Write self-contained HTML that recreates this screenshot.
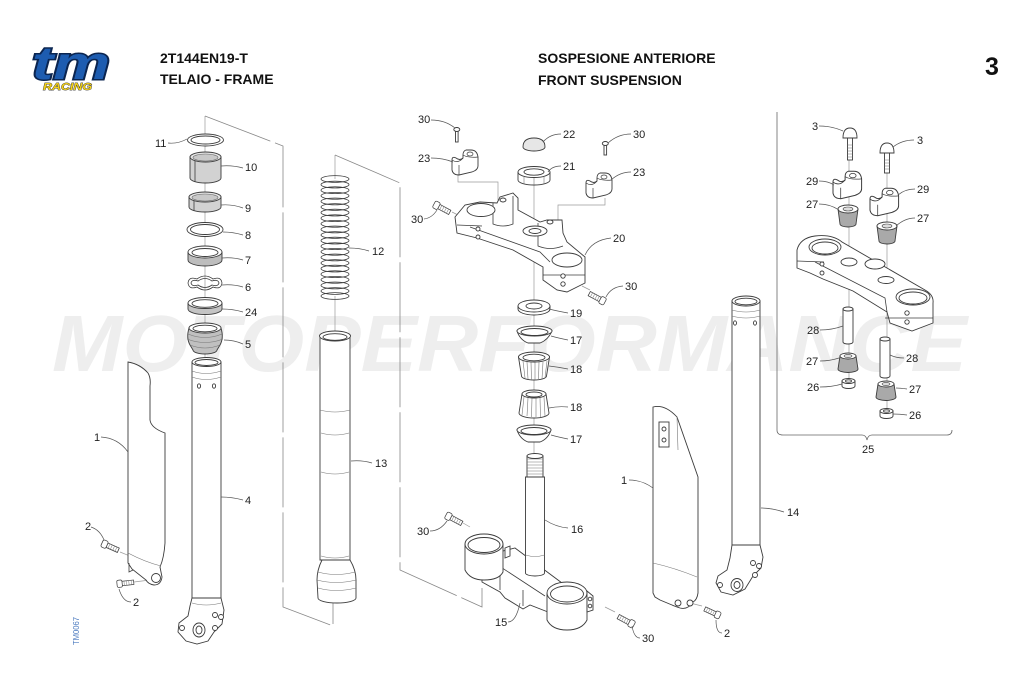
<!DOCTYPE html>
<html><head><meta charset="utf-8"><style>
html,body{margin:0;padding:0;background:#fff;}
svg{display:block;}
text{font-family:"Liberation Sans",sans-serif;}
.l{font-size:11px;fill:#222;}
.p{fill:#fff;stroke:#3c3c3c;stroke-width:0.9;}
.g{fill:#d2d2d2;stroke:#3c3c3c;stroke-width:0.9;}
.d{fill:#a9a9a9;stroke:#3c3c3c;stroke-width:0.9;}
.n{fill:none;stroke:#3c3c3c;stroke-width:0.8;}
.t{fill:none;stroke:#777;stroke-width:0.6;}
.ld{fill:none;stroke:#555;stroke-width:0.7;}
.ax{fill:none;stroke:#9a9a9a;stroke-width:0.7;}
.dl{fill:none;stroke:#888;stroke-width:0.8;stroke-dasharray:70 5;}
</style></head><body>
<svg width="1022" height="686" viewBox="0 0 1022 686" xmlns="http://www.w3.org/2000/svg">
<defs>
 <g id="bolt">
  <rect x="6" y="-2.8" width="15" height="5.6" fill="#fff" stroke="#3c3c3c" stroke-width="0.9"/>
  <path d="M9,-2.8v5.6M12,-2.8v5.6M15,-2.8v5.6M18,-2.8v5.6" stroke="#777" stroke-width="0.6"/>
  <rect x="0" y="-4.5" width="6.5" height="9" rx="2" fill="#fff" stroke="#3c3c3c" stroke-width="0.9"/>
 </g>
 <g id="clampcap">
  <path d="M0,12 L0,22 Q1,27 7,27 L20,24 Q26,22 26,18 L26,9 Q25,2 19,2 L14,2 Q11,3 11,7 L11,10 Q8,13 4,10 Q0,8 0,12 Z" fill="#fff" stroke="#3c3c3c" stroke-width="0.9"/>
  <path d="M0,12 Q6,16 11,10 M11,7 Q16,10 26,9 M7,27 L7,17" fill="none" stroke="#3c3c3c" stroke-width="0.7"/>
  <ellipse cx="18" cy="6" rx="3" ry="2" fill="#fff" stroke="#3c3c3c" stroke-width="0.7"/>
 </g>
 <g id="rub">
  <path d="M0,4 L2,19 A8,3 0 0 0 18,19 L20,4 Z" fill="#a9a9a9" stroke="#3c3c3c" stroke-width="0.9"/>
  <ellipse cx="10" cy="4" rx="10" ry="4" fill="#fff" stroke="#3c3c3c" stroke-width="0.9"/>
  <ellipse cx="10" cy="4" rx="5" ry="2" fill="#ddd" stroke="#3c3c3c" stroke-width="0.6"/>
 </g>
 <g id="rubup">
  <path d="M2,4 L0,17 A10,3.5 0 0 0 20,17 L18,4 Z" fill="#a9a9a9" stroke="#3c3c3c" stroke-width="0.9"/>
  <ellipse cx="10" cy="4" rx="8" ry="3" fill="#fff" stroke="#3c3c3c" stroke-width="0.9"/>
  <ellipse cx="10" cy="4" rx="4" ry="1.6" fill="#ddd" stroke="#3c3c3c" stroke-width="0.6"/>
 </g>
</defs>

<text x="52" y="371" font-size="80" font-weight="bold" font-style="italic" fill="#eeeeee" textLength="915" lengthAdjust="spacingAndGlyphs">MOTOPERFORMANCE</text>

<text x="32" y="79" font-size="46" font-weight="bold" font-style="italic" fill="#1d5cb0" stroke="#0b2550" stroke-width="3" paint-order="stroke" textLength="78" lengthAdjust="spacingAndGlyphs">tm</text>
<text x="43" y="90" font-size="10.5" font-weight="bold" font-style="italic" fill="#f2d01a" stroke="#222" stroke-width="0.7" paint-order="stroke" textLength="49" lengthAdjust="spacingAndGlyphs">RACING</text>
<text x="160" y="63" font-size="14" font-weight="bold" fill="#111">2T144EN19-T</text>
<text x="160" y="84" font-size="14" font-weight="bold" fill="#111">TELAIO - FRAME</text>
<text x="538" y="63" font-size="14" font-weight="bold" fill="#111">SOSPESIONE ANTERIORE</text>
<text x="538" y="85" font-size="14" font-weight="bold" fill="#111">FRONT SUSPENSION</text>
<text x="985" y="75" font-size="25" font-weight="bold" fill="#111">3</text>
<text transform="translate(79,645) rotate(-90)" font-size="8.5" fill="#4d7cc0" textLength="28" lengthAdjust="spacingAndGlyphs">TM0067</text>

<path class="ax" d="M205,116 V362 M335,155 V336 M534,185 V455 M849,138 V385 M887,153 V410 M458,175 V182 H498 V200 M605,198 V205 H558 V220 M452,212 L460,216 M590,290 L582,286 M463,523 L470,527 M615,612 L605,607 M120,552 L130,556 M134,582 L150,580 M702,606 L690,603"/>
<path class="dl" d="M205,116 L283,146 L283,607 L333,626 L333,603"/>
<path class="dl" d="M335,155 L400,183 L400,570 L482,607 L482,588"/>
<path class="n" style="stroke:#666" d="M777,112 L777,430 Q777,435 783,435 L862,435 Q866,435 867,440 Q868,435 872,435 L947,435 Q952,435 952,430"/>

<ellipse class="p" cx="205.5" cy="140" rx="18" ry="6"/>
<ellipse class="p" cx="205.5" cy="140" rx="14.5" ry="4"/>
<path class="g" d="M190,157 L190,178 A15.5,5 0 0 0 221,178 L221,157 Z"/>
<ellipse cx="205.5" cy="157" rx="15.5" ry="5" fill="#e4e4e4" stroke="#3c3c3c" stroke-width="0.9"/>
<ellipse cx="205.5" cy="157.5" rx="12.5" ry="3.5" fill="#c9c9c9" stroke="#666" stroke-width="0.6"/>
<path class="n" d="M195,161 V182"/>
<path class="g" d="M189,197 L189,207 A16,5 0 0 0 221,207 L221,197 Z"/>
<ellipse cx="205" cy="197" rx="16" ry="5" fill="#e4e4e4" stroke="#3c3c3c" stroke-width="0.9"/>
<ellipse cx="205" cy="197.5" rx="13" ry="3.5" fill="#c9c9c9" stroke="#666" stroke-width="0.6"/>
<path class="n" d="M194,201 V211"/>
<ellipse class="p" cx="205" cy="229.5" rx="18" ry="7"/>
<ellipse class="p" cx="205" cy="229.5" rx="14.5" ry="5"/>
<path d="M188,252 L188,260 A17,6 0 0 0 222,260 L222,252 Z" fill="#bdbdbd" stroke="#3c3c3c" stroke-width="0.9"/>
<ellipse class="p" cx="205" cy="252" rx="17" ry="6"/>
<ellipse class="p" cx="205" cy="252.5" rx="13" ry="4"/>
<path class="n" d="M188,283 Q189,276 197,279 Q205,273 213,279 Q221,276 222,283 Q221,290 213,287 Q205,293 197,287 Q189,290 188,283 Z"/>
<path class="n" d="M191,283 Q192,279 198,281 Q205,276 212,281 Q218,279 219,283 Q218,287 212,285 Q205,290 198,285 Q192,287 191,283 Z"/>
<path d="M188,303 L188,309 A17,5.5 0 0 0 222,309 L222,303 Z" fill="#c4c4c4" stroke="#3c3c3c" stroke-width="0.9"/>
<ellipse class="p" cx="205" cy="303" rx="17" ry="5.5"/>
<ellipse class="p" cx="205" cy="303.5" rx="13" ry="3.8"/>
<path d="M189,328 Q186,338 190,345 L193,350 A12,4 0 0 0 217,350 L220,345 Q224,338 221,328 Z" fill="#c0c0c0" stroke="#3c3c3c" stroke-width="0.9"/>
<path class="t" d="M188,334 Q205,341 222,334 M187,339 Q205,346 223,339 M190,345 Q205,351 220,345"/>
<ellipse class="p" cx="205" cy="328" rx="16" ry="5"/>
<ellipse class="p" cx="205" cy="328.5" rx="12" ry="3.3"/>
<path class="p" d="M192,362 L192,598 L221,598 L221,362 Z"/>
<path class="t" d="M192,371 Q206,376 221,371 M192,377 Q206,382 221,377"/>
<ellipse class="p" cx="206.5" cy="362" rx="14.5" ry="4.5"/>
<ellipse class="p" cx="206.5" cy="362.5" rx="11.5" ry="3"/>
<ellipse class="p" cx="199" cy="386" rx="1.6" ry="2.2"/>
<ellipse class="p" cx="214" cy="386" rx="1.6" ry="2.2"/>
<path class="p" d="M192,598 L221,598 L224,610 L222,624 L214,632 L208,641 L197,644 L186,641 L178,632 L179,623 L188,616 L190,606 Z"/>
<ellipse class="p" cx="199" cy="630" rx="6" ry="7"/>
<ellipse class="p" cx="199" cy="630" rx="3" ry="4"/>
<circle class="p" cx="215" cy="615" r="2.5"/><circle class="p" cx="221" cy="617" r="2.5"/>
<circle class="p" cx="182" cy="628" r="2.5"/><circle class="p" cx="215" cy="628" r="2.5"/>
<path class="t" d="M192,603 Q206,607 221,603"/>
<path class="p" d="M128,362 Q140,364 148,373 Q151,378 150,386 L150,420 Q151,428 165,433 L165,543 Q164,558 160,567 L162,577 Q161,585 154,585 Q148,584 146,580 L132,569 L128,563 Z"/>
<path class="t" d="M128,553 Q145,562 161,566"/>
<circle class="p" cx="156" cy="578" r="4.5"/>
<path class="n" d="M129,563 L129,572 L133,570"/>
<use href="#bolt" transform="translate(102,543) rotate(24) scale(0.85)"/>
<use href="#bolt" transform="translate(117,584) rotate(-6) scale(0.8)"/>

<path fill="#fff" d="M321,179 L321,296 L349,296 L349,179 Z"/>
<g class="n">
<ellipse cx="335" cy="179" rx="14" ry="3.4"/><ellipse cx="335" cy="184.6" rx="14" ry="3.4"/><ellipse cx="335" cy="190.2" rx="14" ry="3.4"/><ellipse cx="335" cy="195.8" rx="14" ry="3.4"/><ellipse cx="335" cy="201.4" rx="14" ry="3.4"/><ellipse cx="335" cy="207" rx="14" ry="3.4"/><ellipse cx="335" cy="212.6" rx="14" ry="3.4"/><ellipse cx="335" cy="218.2" rx="14" ry="3.4"/><ellipse cx="335" cy="223.8" rx="14" ry="3.4"/><ellipse cx="335" cy="229.4" rx="14" ry="3.4"/><ellipse cx="335" cy="235" rx="14" ry="3.4"/><ellipse cx="335" cy="240.6" rx="14" ry="3.4"/><ellipse cx="335" cy="246.2" rx="14" ry="3.4"/><ellipse cx="335" cy="251.8" rx="14" ry="3.4"/><ellipse cx="335" cy="257.4" rx="14" ry="3.4"/><ellipse cx="335" cy="263" rx="14" ry="3.4"/><ellipse cx="335" cy="268.6" rx="14" ry="3.4"/><ellipse cx="335" cy="274.2" rx="14" ry="3.4"/><ellipse cx="335" cy="279.8" rx="14" ry="3.4"/><ellipse cx="335" cy="285.4" rx="14" ry="3.4"/><ellipse cx="335" cy="291" rx="14" ry="3.4"/><ellipse cx="335" cy="296" rx="14" ry="3.4"/>
</g>
<path class="p" d="M320,336 L320,560 L350,560 L350,336 Z"/>
<path class="t" d="M320,410 Q335,414 350,410 M321,433 Q335,437 349,433 M321,472 Q335,476 349,472 M321,556 Q335,560 349,556"/>
<ellipse class="p" cx="335" cy="336" rx="15.5" ry="5"/>
<ellipse class="p" cx="335" cy="337" rx="12" ry="3.3"/>
<path class="p" d="M322,560 Q317,570 317,580 L318,598 A19,5 0 0 0 356,598 L356,580 Q356,570 350,560 Z"/>
<path class="t" d="M318,572 Q336,577 355,572 M317,580 Q336,585 356,580 M318,588 Q336,593 356,588"/>

<use href="#bolt" transform="translate(434,204) rotate(28) scale(0.85)"/>
<path class="p" d="M455,217 L465,205 L480,202 L497,203 L500,197 L513,193 L518,198 L518,210 L540,222 L547,220 L562,220 L563,233 L567,242 L585,257 L585,283 L567,292 L557,290 L543,280 L543,267 L513,250 L477,238 L457,233 Z"/>
<path class="n" d="M457,225 L482,226 M470,227 L540,252 L550,262 M543,275 L585,275 M493,203 L493,224 Q503,228 513,224 L513,196 M538,223 L538,246 Q550,251 563,246"/>
<ellipse class="p" cx="481" cy="210" rx="14" ry="6.5"/>
<ellipse class="p" cx="567" cy="260" rx="15" ry="7"/>
<ellipse class="p" cx="535" cy="231" rx="12" ry="5"/>
<ellipse class="p" cx="535" cy="231" rx="6" ry="2.5"/>
<ellipse class="p" cx="503" cy="200" rx="3" ry="2"/>
<ellipse class="p" cx="550" cy="222" rx="3" ry="2"/>
<circle class="p" cx="478" cy="229" r="2"/><circle class="p" cx="478" cy="237" r="2"/>
<circle class="p" cx="563" cy="276" r="2.2"/><circle class="p" cx="563" cy="284" r="2.2"/>
<use href="#bolt" transform="translate(605,302) rotate(208) scale(0.85)"/>
<use href="#clampcap" transform="translate(452,148)"/>
<use href="#clampcap" transform="translate(586,171)"/>
<rect class="p" x="455.5" y="130" width="2.6" height="12"/>
<ellipse class="p" cx="456.8" cy="129.5" rx="3" ry="2"/>
<rect class="p" x="604" y="144" width="2.6" height="11"/>
<ellipse class="p" cx="605.3" cy="143.5" rx="3" ry="2"/>
<path d="M523,147 Q523,138 534,138 Q545,138 545,147 A11,4 0 0 1 523,147 Z" fill="#e6e6e6" stroke="#3c3c3c" stroke-width="0.9"/>
<path class="p" d="M518,172 L518,180 A16,5 0 0 0 550,180 L550,172 Z"/>
<ellipse class="p" cx="534" cy="172" rx="16" ry="5.5"/>
<ellipse class="p" cx="534" cy="172" rx="10" ry="3.2"/>
<path class="t" d="M524,177 V184 M534,178 V185 M544,177 V184"/>

<path class="p" d="M518,306 L518,309 A16,6 0 0 0 550,309 L550,306 Z"/>
<ellipse class="p" cx="534" cy="306" rx="16" ry="6"/>
<ellipse class="p" cx="534" cy="306" rx="8" ry="3"/>
<path class="p" d="M517,331 Q520,340 528,343 L540,343 Q548,340 552,331 Z"/>
<ellipse class="p" cx="534.5" cy="331" rx="17.5" ry="5"/>
<ellipse class="p" cx="534.5" cy="332" rx="13.5" ry="3.5"/>
<path class="p" d="M518.5,357 L521.5,376 A12.5,4 0 0 0 546.5,376 L549.5,357 Z"/>
<path class="t" d="M523,361 L525,378 M527,362 L528,379 M531,362 L531.5,380 M535,362 L535,380 M539,362 L538.5,380 M543,362 L542,379 M547,361 L545,378"/>
<ellipse class="p" cx="534" cy="357" rx="15.5" ry="5"/>
<ellipse class="p" cx="534" cy="357.5" rx="11" ry="3.3"/>
<path class="p" d="M522,394 L519,413 A15,5 0 0 0 549,413 L546,394 Z"/>
<path class="t" d="M524,397 L522,415 M528,398 L527,416 M532,398 L531.5,417 M536,398 L536,417 M540,398 L540.5,417 M544,397 L545,416"/>
<ellipse class="p" cx="534" cy="394" rx="12" ry="4"/>
<ellipse class="p" cx="534" cy="394.5" rx="8" ry="2.5"/>
<path class="p" d="M517,430 Q520,439 528,442 L540,442 Q548,439 551,430 Z"/>
<ellipse class="p" cx="534" cy="430" rx="17" ry="5"/>
<ellipse class="p" cx="534" cy="431" rx="13" ry="3.5"/>

<use href="#bolt" transform="translate(446,515) rotate(28) scale(0.85)"/>
<path class="p" d="M495,553 L515,548 L562,583 L548,592 L548,612 L530,605 L523,609 L505,598 L500,592 L482,582 L482,562 Z"/>
<path class="n" d="M490,560 L545,596 M500,575 L500,590 M523,590 L523,606"/>
<path class="p" d="M465,544 L465,570 Q470,580 484,580 Q499,580 503,572 L503,544 Z"/>
<ellipse class="p" cx="484" cy="544" rx="19" ry="10"/>
<ellipse class="p" cx="484" cy="545" rx="16" ry="7.5"/>
<path class="p" d="M505,548 L510,546 L510,556 L505,558 Z"/>
<path class="p" d="M525.5,477 L525.5,573 A9.5,3 0 0 0 544.5,573 L544.5,477 Z"/>
<path class="t" d="M525.5,555 Q535,558 544.5,555"/>
<path class="p" d="M527,456 L527,477 L543,477 L543,456 Z"/>
<path class="t" d="M527,459 H543 M527,462 H543 M527,465 H543 M527,468 H543 M527,471 H543 M527,474 H543"/>
<ellipse class="p" cx="535" cy="456" rx="8" ry="2.5"/>
<path class="p" d="M547,594 L547,620 Q552,630 567,630 Q582,630 587,620 L587,594 Z"/>
<ellipse class="p" cx="567" cy="593" rx="20" ry="11"/>
<ellipse class="p" cx="567" cy="594" rx="16.5" ry="8"/>
<path class="p" d="M587,591 L593,596 L593,610 L587,612 Z"/>
<circle class="p" cx="590" cy="599" r="1.8"/><circle class="p" cx="590" cy="606" r="1.8"/>
<use href="#bolt" transform="translate(634,625) rotate(208) scale(0.85)"/>

<path class="p" d="M653,407 Q665,404 677,417 L698,477 L698,593 Q697,600 693,602 Q688,610 680,608 Q674,606 672,605 L660,600 L655,597 L653,593 Z"/>
<path class="t" d="M653,563 Q675,568 697,577 M677,417 L678,450"/>
<rect class="p" x="659" y="422" width="10" height="25"/>
<circle class="p" cx="664" cy="429" r="2"/><circle class="p" cx="664" cy="440" r="2"/>
<circle class="p" cx="678" cy="603" r="3"/><circle class="p" cx="690" cy="603" r="3"/>
<path class="p" d="M732,301 L732,545 L760,545 L760,301 Z"/>
<path class="t" d="M732,310 Q746,314 760,310 M732,316 Q746,320 760,316 M732,549 Q746,553 760,549"/>
<ellipse class="p" cx="746" cy="301" rx="14" ry="5"/>
<ellipse class="p" cx="746" cy="301.5" rx="11" ry="3.3"/>
<ellipse class="p" cx="735" cy="323" rx="1.5" ry="2.2"/>
<ellipse class="p" cx="755" cy="323" rx="1.5" ry="2.2"/>
<path class="p" d="M732,545 L760,545 L763,557 L761,568 L753,576 L745,589 L733,595 L721,592 L716,583 L718,576 L727,570 L730,558 Z"/>
<ellipse class="p" cx="737" cy="585" rx="6" ry="6.5"/>
<ellipse class="p" cx="737" cy="585" rx="3" ry="3.5"/>
<circle class="p" cx="753" cy="563" r="2.5"/><circle class="p" cx="759" cy="566" r="2.5"/>
<circle class="p" cx="720" cy="585" r="2.5"/><circle class="p" cx="755" cy="575" r="2.5"/>
<use href="#bolt" transform="translate(720,616) rotate(205) scale(0.8)"/>

<rect class="p" x="847.5" y="137" width="5" height="23"/>
<path class="t" d="M847.5,145 H852.5 M847.5,148 H852.5 M847.5,151 H852.5 M847.5,154 H852.5 M847.5,157 H852.5"/>
<path class="p" d="M843,138 Q843,128 850,128 Q857,128 857,138 Z"/>
<rect class="p" x="884.5" y="152" width="5" height="21"/>
<path class="t" d="M884.5,160 H889.5 M884.5,163 H889.5 M884.5,166 H889.5 M884.5,169 H889.5"/>
<path class="p" d="M880,153 Q880,143 887,143 Q894,143 894,153 Z"/>
<use href="#clampcap" transform="translate(833,169) scale(1.1)"/>
<use href="#clampcap" transform="translate(870,186) scale(1.1)"/>
<use href="#rub" transform="translate(838,205)"/>
<use href="#rub" transform="translate(877,222)"/>
<path class="p" d="M797,250 Q800,238 815,236 Q832,234 842,242 L925,290 Q934,295 933,303 L933,323 L912,331 L890,323 L887,312 L853,291 L823,279 L810,273 L797,268 Z"/>
<path class="n" d="M797,261 L824,262 M815,262 L885,298 L887,312 M885,318 L933,318"/>
<ellipse class="p" cx="825" cy="247" rx="16" ry="8"/>
<ellipse class="p" cx="825" cy="248" rx="13" ry="6"/>
<ellipse class="p" cx="913" cy="297" rx="17" ry="8"/>
<ellipse class="p" cx="913" cy="298" rx="14" ry="6"/>
<ellipse class="p" cx="849" cy="262" rx="8" ry="4"/>
<ellipse class="p" cx="875" cy="264" rx="10" ry="5"/>
<ellipse class="p" cx="886" cy="280" rx="8" ry="3.5"/>
<circle class="p" cx="822" cy="264" r="2"/><circle class="p" cx="822" cy="273" r="2"/>
<circle class="p" cx="907" cy="313" r="2.2"/><circle class="p" cx="907" cy="322" r="2.2"/>
<path class="p" d="M843,309 L843,342 A5,2 0 0 0 853,342 L853,309 Z"/>
<ellipse class="p" cx="848" cy="309" rx="5" ry="2"/>
<path class="p" d="M880,339 L880,376 A5,2 0 0 0 890,376 L890,339 Z"/>
<ellipse class="p" cx="885" cy="339" rx="5" ry="2"/>
<use href="#rubup" transform="translate(838,352)"/>
<use href="#rubup" transform="translate(876,380)"/>
<path class="p" d="M842,381 L842,386 A6.5,2.5 0 0 0 855,386 L855,381 Z"/>
<ellipse class="p" cx="848.5" cy="381" rx="6.5" ry="2.5"/>
<ellipse class="p" cx="848.5" cy="381" rx="3" ry="1.2"/>
<path class="p" d="M880,411 L880,416 A6.5,2.5 0 0 0 893,416 L893,411 Z"/>
<ellipse class="p" cx="886.5" cy="411" rx="6.5" ry="2.5"/>
<ellipse class="p" cx="886.5" cy="411" rx="3" ry="1.2"/>

<path class="ld" d="M168,143 Q178,144 187,139 M221,166 Q232,165 243,168 M221,205 Q232,204 243,208 M223,232 Q233,232 243,235 M222,258 Q233,257 243,260 M222,285 Q233,284 243,287 M222,309 Q233,309 243,312 M224,340 Q234,340 243,344 M221,497 Q232,497 243,500 M101,437 Q118,438 128,452 M91,527 Q100,530 104,540 M131,602 Q123,602 119,589 M349,248 Q360,248 369,251 M351,461 Q362,460 372,463"/>
<path class="ld" d="M431,120 Q445,120 455,128 M431,158 Q443,158 453,162 M424,219 Q432,218 437,210 M561,134 Q550,134 543,142 M561,166 Q552,166 548,172 M631,134 Q618,134 608,143 M631,172 Q620,172 611,180 M611,238 Q592,240 585,255 M623,286 Q611,287 606,297 M568,313 Q557,311 549,309 M568,340 Q558,338 551,336 M568,369 Q558,367 549,366 M568,407 Q558,406 549,408 M568,439 Q558,437 551,435 M568,528 Q556,527 545,520 M430,531 Q440,531 447,521 M508,622 Q516,622 520,603 M640,638 Q634,638 632,626"/>
<path class="ld" d="M629,480 Q642,480 653,488 M784,512 Q772,508 761,508 M722,633 Q716,633 716,620"/>
<path class="ld" d="M819,126 Q832,126 843,131 M914,140 Q902,140 893,147 M819,181 Q828,181 834,185 M915,189 Q905,189 898,195 M819,204 Q830,204 839,210 M915,218 Q905,218 896,226 M820,330 Q832,330 843,326 M820,361 Q830,361 839,358 M820,387 Q832,387 842,384 M904,358 Q896,358 890,355 M907,389 Q900,388 896,388 M907,415 Q900,414 893,414"/>

<g class="l">
<text x="155" y="147">11</text>
<text x="245" y="171">10</text>
<text x="245" y="212">9</text>
<text x="245" y="239">8</text>
<text x="245" y="264">7</text>
<text x="245" y="291">6</text>
<text x="245" y="316">24</text>
<text x="245" y="348">5</text>
<text x="245" y="504">4</text>
<text x="94" y="441">1</text>
<text x="85" y="530">2</text>
<text x="133" y="606">2</text>
<text x="372" y="255">12</text>
<text x="375" y="467">13</text>
<text x="418" y="123">30</text>
<text x="418" y="162">23</text>
<text x="411" y="223">30</text>
<text x="563" y="138">22</text>
<text x="563" y="170">21</text>
<text x="633" y="138">30</text>
<text x="633" y="176">23</text>
<text x="613" y="242">20</text>
<text x="625" y="290">30</text>
<text x="570" y="317">19</text>
<text x="570" y="344">17</text>
<text x="570" y="373">18</text>
<text x="570" y="411">18</text>
<text x="570" y="443">17</text>
<text x="571" y="533">16</text>
<text x="417" y="535">30</text>
<text x="495" y="626">15</text>
<text x="642" y="642">30</text>
<text x="621" y="484">1</text>
<text x="787" y="516">14</text>
<text x="724" y="637">2</text>
<text x="812" y="130">3</text>
<text x="917" y="144">3</text>
<text x="806" y="185">29</text>
<text x="917" y="193">29</text>
<text x="806" y="208">27</text>
<text x="917" y="222">27</text>
<text x="807" y="334">28</text>
<text x="806" y="365">27</text>
<text x="807" y="391">26</text>
<text x="906" y="362">28</text>
<text x="909" y="393">27</text>
<text x="909" y="419">26</text>
<text x="862" y="453">25</text>
</g>
</svg>
</body></html>
